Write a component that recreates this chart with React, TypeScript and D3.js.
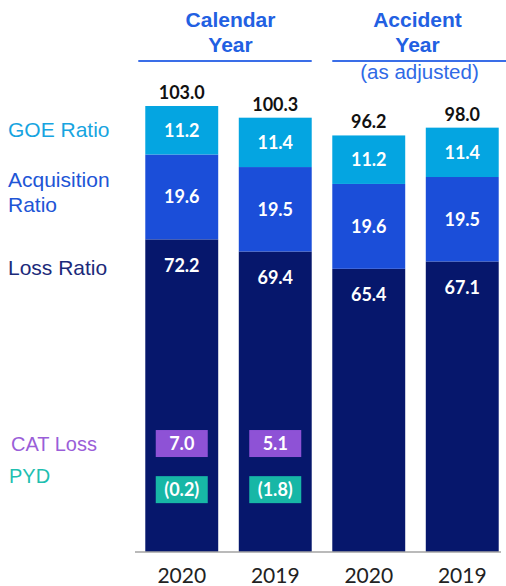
import React from 'react';
import * as d3 from 'd3';

// bars: calendar year 2020/2019, accident year (as adjusted) 2020/2019
const years = ['2020', '2019', '2020', '2019'];
const lossRatio = [72.2, 69.4, 65.4, 67.1];
const acqRatio = [19.6, 19.5, 19.6, 19.5];
const goeRatio = [11.2, 11.4, 11.2, 11.4];
const totals = [103.0, 100.3, 96.2, 98.0];
const catLoss = [7.0, 5.1, null, null];
const pyd = [-0.2, -1.8, null, null];

const groups = [
  { title: ['Calendar', 'Year'], sub: null, bars: [0, 1] },
  { title: ['Accident', 'Year'], sub: '(as adjusted)', bars: [2, 3] },
];

const W = 506;
const H = 586;

const colors = {
  loss: '#06176C',
  acq: '#1B4ED9',
  goe: '#04A5E1',
  cat: '#8E52D6',
  pyd: '#17B7A6',
  head: '#2260E2',
};

const fmt = (v: number) => (v < 0 ? `(${Math.abs(v).toFixed(1)})` : v.toFixed(1));

export default function App() {
  const x = d3
    .scaleBand<number>()
    .domain(d3.range(years.length))
    .range([135, 509])
    .paddingInner(0.22)
    .paddingOuter(0.11);
  const y = d3.scaleLinear().domain([0, 103]).range([552, 106]);
  const bw = x.bandwidth();

  const stack = years.map((_, i) => {
    const l = lossRatio[i];
    const a = acqRatio[i];
    const g = goeRatio[i];
    return [
      { key: 'loss', y0: 0, y1: l, v: l },
      { key: 'acq', y0: l, y1: l + a, v: a },
      { key: 'goe', y0: l + a, y1: l + a + g, v: g },
    ];
  });

  const num = "Lato, 'Open Sans', sans-serif";
  const sans = "'Liberation Sans', Arial, sans-serif";
  const boxW = 52;
  const boxH = 27;
  const catY = y(25.05);
  const pydY = y(14.4);

  return (
    <svg width={W} height={H} style={{ position: 'absolute', left: 0, top: 0, background: '#fff' }}>
      {/* group headers */}
      {groups.map((gr, gi) => {
        const x0 = x(gr.bars[0])!;
        const x1 = x(gr.bars[1])! + bw;
        const cx = (x0 + x1) / 2 + 2;
        const lx0 = gi === 0 ? x0 - 7 : x0;
        const lx1 = gi === 0 ? x1 : W;
        return (
          <g key={gi}>
            {gr.title.map((t, k) => (
              <text key={k} x={cx} y={27 + k * 25} textAnchor="middle" fontFamily={sans} fontWeight="bold" fontSize={21} fill={colors.head}>
                {t}
              </text>
            ))}
            <line x1={lx0} x2={lx1} y1={61} y2={61} stroke="#3A6EE8" strokeWidth={2} />
            {gr.sub && (
              <text x={cx + 2} y={79} textAnchor="middle" fontFamily={sans} fontSize={20.5} fill="#2F6AE6">
                {gr.sub}
              </text>
            )}
          </g>
        );
      })}

      {/* left legend labels */}
      <g fontFamily={sans} fontSize={21}>
        <text x={8} y={137} fill="#17A4E0">GOE Ratio</text>
        <text x={8} y={187} fill="#2155D6">Acquisition</text>
        <text x={8} y={212} fill="#2155D6">Ratio</text>
        <text x={8} y={275} fill="#1B2A7A">Loss Ratio</text>
        <text x={11} y={451} fontSize={20} fill="#9A5ED8">CAT Loss</text>
        <text x={9} y={483} fontSize={20} fill="#1FBFB0">PYD</text>
      </g>

      {/* stacked bars */}
      {stack.map((segs, i) => (
        <g key={i} transform={`translate(${x(i)},0)`}>
          {segs.map((s) => (
            <rect key={s.key} x={0} y={y(s.y1)} width={bw} height={y(s.y0) - y(s.y1)} fill={(colors as any)[s.key]} />
          ))}
          {segs.map((s) => {
            const ty = s.key === 'loss' ? y(s.y1) + 26 : (y(s.y0) + y(s.y1)) / 2;
            return (
              <text key={s.key + 't'} x={bw / 2} y={ty} dy="0.35em" textAnchor="middle" fontFamily={num} fontWeight="bold" fontSize={18} fill="#fff">
                {fmt(s.v)}
              </text>
            );
          })}
          <text x={bw / 2} y={y(totals[i]) - 7} textAnchor="middle" fontFamily={num} fontWeight="bold" fontSize={18} fill="#111">
            {fmt(totals[i])}
          </text>
          {catLoss[i] != null && (
            <g>
              <rect x={(bw - boxW) / 2} y={catY - boxH / 2} width={boxW} height={boxH} fill={colors.cat} />
              <text x={bw / 2} y={catY} dy="0.35em" textAnchor="middle" fontFamily={num} fontWeight="bold" fontSize={18} fill="#fff">
                {fmt(catLoss[i] as number)}
              </text>
            </g>
          )}
          {pyd[i] != null && (
            <g>
              <rect x={(bw - boxW) / 2} y={pydY - boxH / 2} width={boxW} height={boxH} fill={colors.pyd} />
              <text x={bw / 2} y={pydY} dy="0.35em" textAnchor="middle" fontFamily={num} fontWeight="bold" fontSize={18} fill="#fff">
                {fmt(pyd[i] as number)}
              </text>
            </g>
          )}
          <text x={bw / 2} y={583} textAnchor="middle" fontFamily={num} fontSize={21} fill="#222">
            {years[i]}
          </text>
        </g>
      ))}

      {/* baseline */}
      <line x1={135} x2={501} y1={y(0)} y2={y(0)} stroke="#A3A3A3" strokeWidth={1.5} />
    </svg>
  );
}
